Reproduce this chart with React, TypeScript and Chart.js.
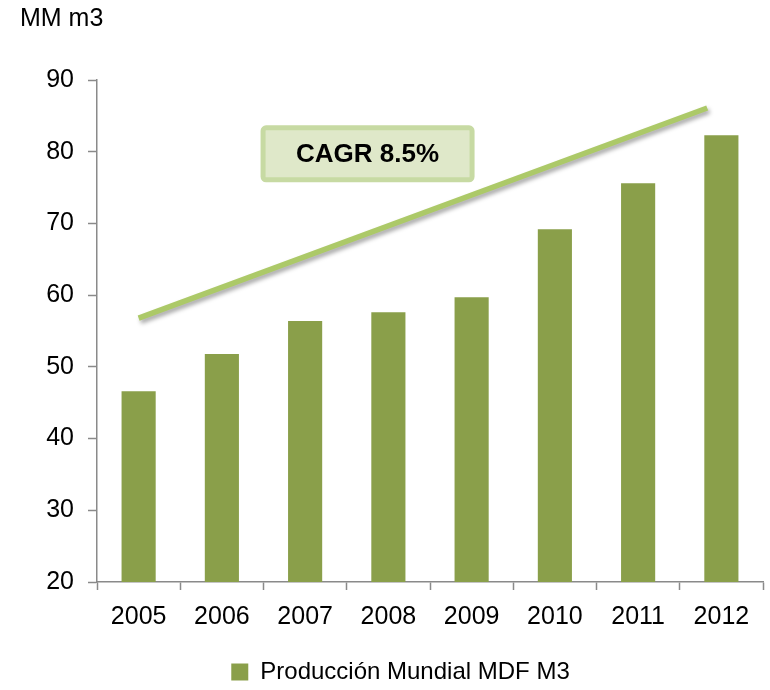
import React, { useEffect, useRef } from "react";
import { Chart, registerables } from "chart.js";

Chart.register(...registerables);

const categories = ["2005", "2006", "2007", "2008", "2009", "2010", "2011", "2012"];
const production = [46.6, 51.8, 56.4, 57.6, 59.7, 69.2, 75.6, 82.3];
const seriesLabel = "Producción Mundial MDF M3";
const unitLabel = "MM m3";
const yMin = 20;
const yMax = 90;
const yStep = 10;
// trend arrow (category index position, value)
const trendX = [0, 6.83];
const trendY = [56.8, 86.1];
const cagrText = "CAGR 8.5%";
const cagrPos = { x: 2.75, y: 79.7 };

const BAR = "#8a9f4a";
const FONT = "'Liberation Sans', Arial, sans-serif";

const overlay = {
  id: "overlay",
  afterDatasetsDraw(chart: any) {
    const { ctx, scales } = chart;
    const xs = scales.x;
    const ys = scales.y;
    // trend line
    ctx.save();
    ctx.strokeStyle = "#acc968";
    ctx.lineWidth = 5.5;
    ctx.lineCap = "butt";
    ctx.shadowColor = "rgba(0,0,0,0.35)";
    ctx.shadowBlur = 4;
    ctx.shadowOffsetX = 2;
    ctx.shadowOffsetY = 3;
    ctx.beginPath();
    ctx.moveTo(xs.getPixelForValue(trendX[0]), ys.getPixelForValue(trendY[0]));
    ctx.lineTo(xs.getPixelForValue(trendX[1]), ys.getPixelForValue(trendY[1]));
    ctx.stroke();
    ctx.restore();

    // CAGR box
    const cx = xs.getPixelForValue(cagrPos.x);
    const cy = ys.getPixelForValue(cagrPos.y);
    const w = 214;
    const h = 57;
    ctx.save();
    ctx.fillStyle = "#dfe8c9";
    ctx.strokeStyle = "#c7daa3";
    ctx.lineWidth = 5;
    ctx.beginPath();
    (ctx as any).roundRect(cx - w / 2 + 2.5, cy - h / 2 + 2.5, w - 5, h - 5, 3);
    ctx.fill();
    ctx.stroke();
    ctx.fillStyle = "#000";
    ctx.font = `bold 26px ${FONT}`;
    ctx.textAlign = "center";
    ctx.textBaseline = "middle";
    ctx.fillText(cagrText, cx, cy + 1);
    ctx.restore();

    // unit label
    ctx.save();
    ctx.fillStyle = "#000";
    ctx.font = `25px ${FONT}`;
    ctx.textAlign = "left";
    ctx.textBaseline = "middle";
    ctx.fillText(unitLabel, 20, 19);
    ctx.restore();
  },
};

export default function App() {
  const ref = useRef<HTMLCanvasElement>(null);
  useEffect(() => {
    if (!ref.current) return;
    const chart = new Chart(ref.current, {
      type: "bar",
      data: {
        labels: categories,
        datasets: [
          {
            label: seriesLabel,
            data: production,
            backgroundColor: BAR,
            borderWidth: 0,
            categoryPercentage: 0.41,
            barPercentage: 1,
          },
        ],
      },
      options: {
        animation: false,
        responsive: false,
        maintainAspectRatio: false,
        layout: { padding: { top: 80, right: 7, left: 38, bottom: -4 } },
        plugins: {
          title: { display: false },
          tooltip: { enabled: false },
          legend: {
            position: "bottom",
            labels: {
              boxWidth: 17,
              boxHeight: 17,
              padding: 5,
              color: "#000",
              font: { family: FONT, size: 24 },
            },
          },
        },
        scales: {
          x: {
            afterFit(scale: any) {
              scale.height = 73;
            },
            grid: {
              drawOnChartArea: false,
              drawTicks: true,
              tickLength: 8,
              tickColor: "#8a8a8a",
              tickWidth: 1.5,
              offset: true,
            },
            border: { color: "#8a8a8a", width: 1.5 },
            ticks: { color: "#000", font: { family: FONT, size: 25 }, padding: 12 },
          },
          y: {
            min: yMin,
            max: yMax,
            afterFit(scale: any) {
              scale.width = 59;
            },
            grid: {
              drawOnChartArea: false,
              tickLength: 9,
              tickColor: "#8a8a8a",
              tickWidth: 1.5,
            },
            border: { color: "#8a8a8a", width: 1.5 },
            ticks: { stepSize: yStep, color: "#000", font: { family: FONT, size: 25 }, padding: 14 },
          },
        },
      },
      plugins: [overlay],
    });
    return () => chart.destroy();
  }, []);
  return (
    <div style={{ position: "fixed", left: 0, top: 0, width: 770, height: 690, background: "#fff" }}>
      <canvas ref={ref} width={770} height={690} style={{ width: 770, height: 690 }} />
    </div>
  );
}
